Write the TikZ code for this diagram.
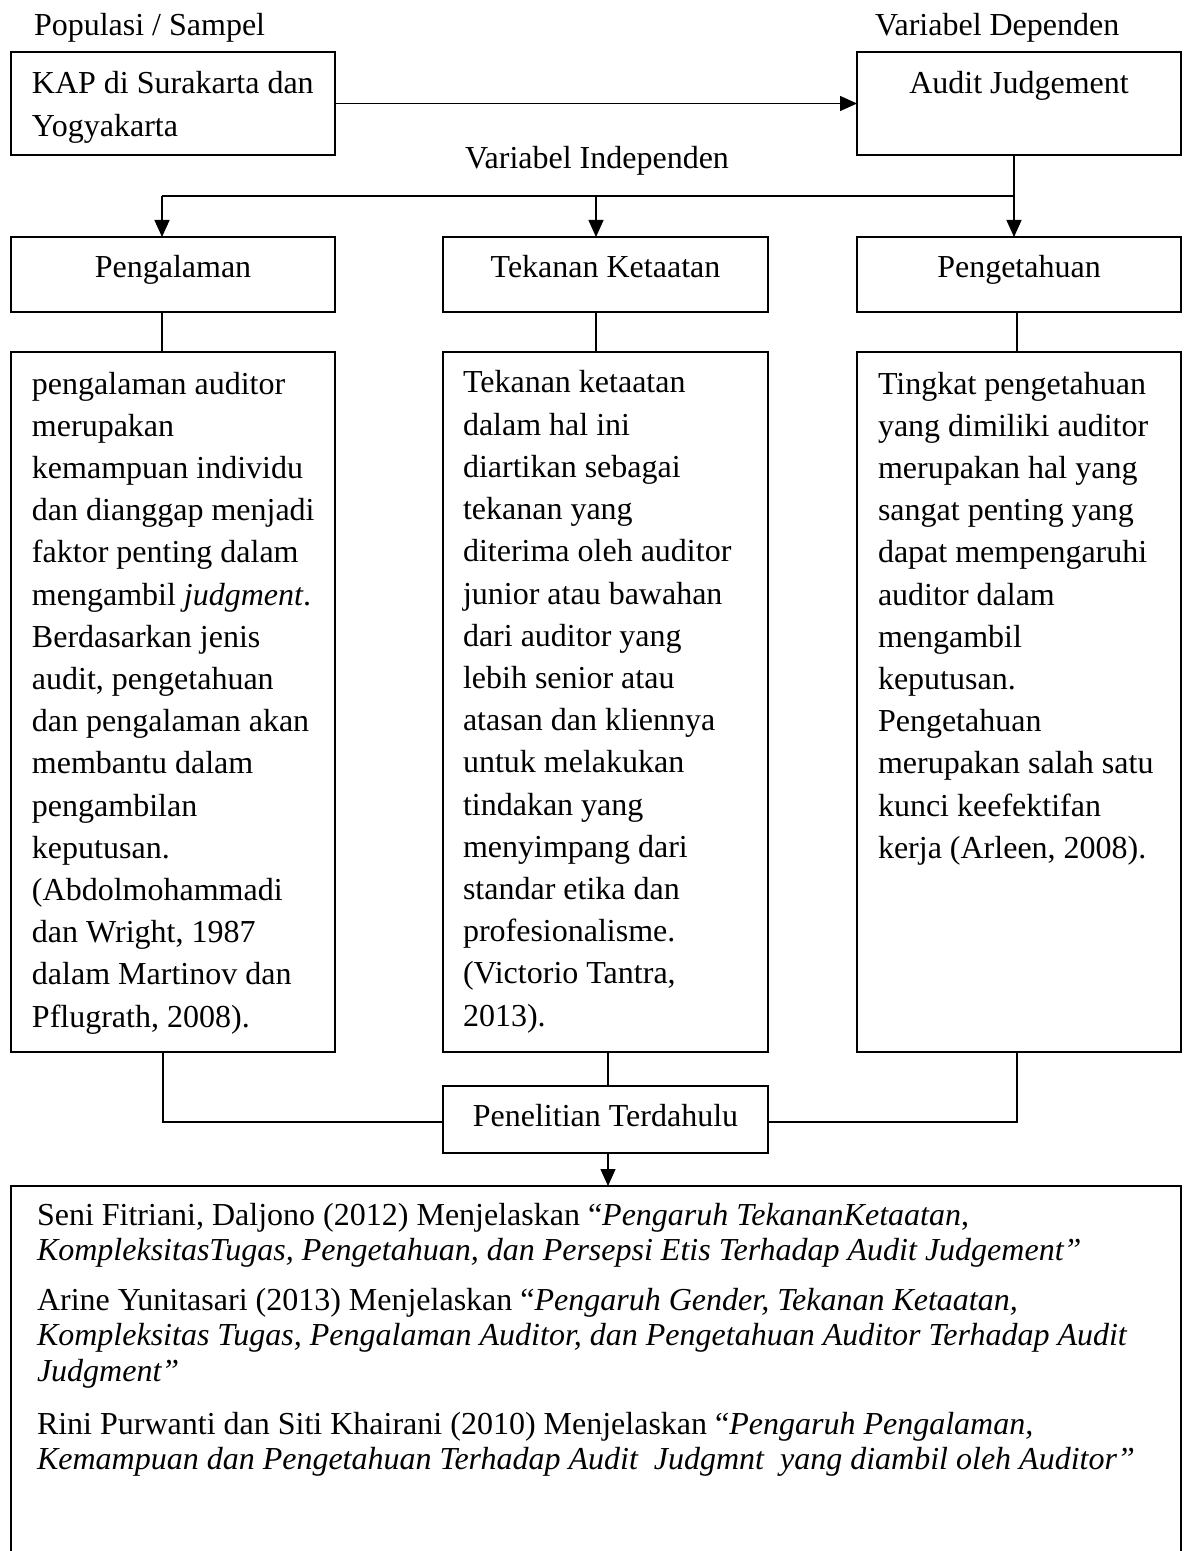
\documentclass[tikz,border=0pt]{standalone}
\usepackage{fontspec}
\setmainfont{Liberation Serif}
\usetikzlibrary{arrows.meta,calc}
\newcommand\toplines[2]{\parbox[t]{#1}{#2}}
\begin{document}
\begin{tikzpicture}[x=0.5pt,y=-0.5pt,
  box/.style={draw, line width=0.85pt, inner sep=0pt, outer sep=0pt, anchor=north west},
  txt/.style={inner sep=0pt, outer sep=0pt, font=\fontsize{16pt}{21.1pt}\selectfont},
  para/.style={txt, anchor=base west, align=left},
  lbl/.style={txt, anchor=base},
  bpara/.style={para, font=\fontsize{16pt}{17.8pt}\selectfont},
  con/.style={line width=0.7pt},
  arr/.style={con, -{Triangle[length=8.5pt,width=7.5pt]}},
]
\useasboundingbox (0,0) rectangle (1186,1551);
\clip (0,0) rectangle (1186,1551);

% boxes
\node[box, minimum width=162pt, minimum height=51.5pt] (kap) at (11,52) {};
\node[box, minimum width=162pt, minimum height=51.5pt] (audit) at (857,52) {};
\node[box, minimum width=162pt, minimum height=37.5pt] (peng) at (11,237) {};
\node[box, minimum width=162.5pt, minimum height=37.5pt] (tek) at (443,237) {};
\node[box, minimum width=162pt, minimum height=37.5pt] (pet) at (857,237) {};
\node[box, minimum width=162pt, minimum height=350pt] (d1) at (11,352) {};
\node[box, minimum width=162.5pt, minimum height=350pt] (d2) at (443,352) {};
\node[box, minimum width=162pt, minimum height=350pt] (d3) at (857,352) {};
\node[box, minimum width=162.5pt, minimum height=33.5pt] (pen) at (443,1086) {};
\node[box, minimum width=585pt, minimum height=200pt] (res) at (11,1186) {};

% texts
\node[para] (tpop) at (34,36) {Populasi / Sampel};
\node[para] (tdep) at (875,36) {Variabel Dependen};
\node[lbl] (tind) at (597,169) {Variabel Independen};
\node[para] (tkap) at (32,94) {\toplines{150pt}{KAP di Surakarta dan\\Yogyakarta}};
\node[lbl] (taud) at (1019,94) {Audit Judgement};
\node[lbl] (tpeng) at (173,278) {Pengalaman};
\node[lbl] (ttek) at (605.5,278) {Tekanan Ketaatan};
\node[lbl] (tpet) at (1019,278) {Pengetahuan};
\node[lbl] (tpen) at (605.5,1126) {Penelitian Terdahulu};

\node[para] (td1) at (32,394) {\toplines{150pt}{pengalaman auditor\\merupakan\\kemampuan individu\\dan dianggap menjadi\\faktor penting dalam\\mengambil \textit{judgment}.\\Berdasarkan jenis\\audit, pengetahuan\\dan pengalaman akan\\membantu dalam\\pengambilan\\keputusan.\\(Abdolmohammadi\\dan Wright, 1987\\dalam Martinov dan\\Pflugrath, 2008).}};
\node[para] (td2) at (463,393) {\toplines{150pt}{Tekanan ketaatan\\dalam hal ini\\diartikan sebagai\\tekanan yang\\diterima oleh auditor\\junior atau bawahan\\dari auditor yang\\lebih senior atau\\atasan dan kliennya\\untuk melakukan\\tindakan yang\\menyimpang dari\\standar etika dan\\profesionalisme.\\(Victorio Tantra,\\2013).}};
\node[para] (td3) at (878,394) {\toplines{150pt}{Tingkat pengetahuan\\yang dimiliki auditor\\merupakan hal yang\\sangat penting yang\\dapat mempengaruhi\\auditor dalam\\mengambil\\keputusan.\\Pengetahuan\\merupakan salah satu\\kunci keefektifan\\kerja (Arleen, 2008).}};

\node[bpara] (tb1) at (37,1225) {\toplines{570pt}{Seni Fitriani, Daljono (2012) Menjelaskan “\textit{Pengaruh TekananKetaatan},\\\textit{KompleksitasTugas, Pengetahuan, dan Persepsi Etis Terhadap Audit Judgement”}}};
\node[bpara] (tb2) at (37,1310) {\toplines{570pt}{Arine Yunitasari (2013) Menjelaskan “\textit{Pengaruh Gender, Tekanan Ketaatan,}\\\textit{Kompleksitas Tugas, Pengalaman Auditor, dan Pengetahuan Auditor Terhadap Audit}\\\textit{Judgment”}}};
\node[bpara] (tb3) at (37,1434) {\toplines{570pt}{Rini Purwanti dan Siti Khairani (2010) Menjelaskan “\textit{Pengaruh Pengalaman,}\\\textit{Kemampuan dan Pengetahuan Terhadap Audit\ \ Judgmnt\ \ yang diambil oleh Auditor”}}};

% connectors
\coordinate (jl) at (162,196);
\coordinate (jm) at (596,196);
\coordinate (jr) at (1014,196);
\coordinate (bl) at (163,1122);
\coordinate (br) at (1017,1122);
\coordinate (bm) at (608,1122);

\draw[arr] (kap.east) -- (audit.west);
\draw[con] (audit.south -| jr) -- (jr);
\draw[con] (jl) -- (jr);
\draw[arr] (jl) -- (jl |- peng.north);
\draw[arr] (jm) -- (jm |- tek.north);
\draw[arr] (jr) -- (jr |- pet.north);
\draw[con] (peng.south -| jl) -- (d1.north -| jl);
\draw[con] (tek.south -| jm) -- (d2.north -| jm);
\draw[con] (pet.south -| br) -- (d3.north -| br);
\draw[con] (d1.south -| bl) -- (bl) -- (bl -| pen.west);
\draw[con] (d3.south -| br) -- (br) -- (br -| pen.east);
\draw[con] (d2.south -| bm) -- (pen.north -| bm);
\draw[arr] (pen.south -| bm) -- (res.north -| bm);
\end{tikzpicture}
\end{document}
